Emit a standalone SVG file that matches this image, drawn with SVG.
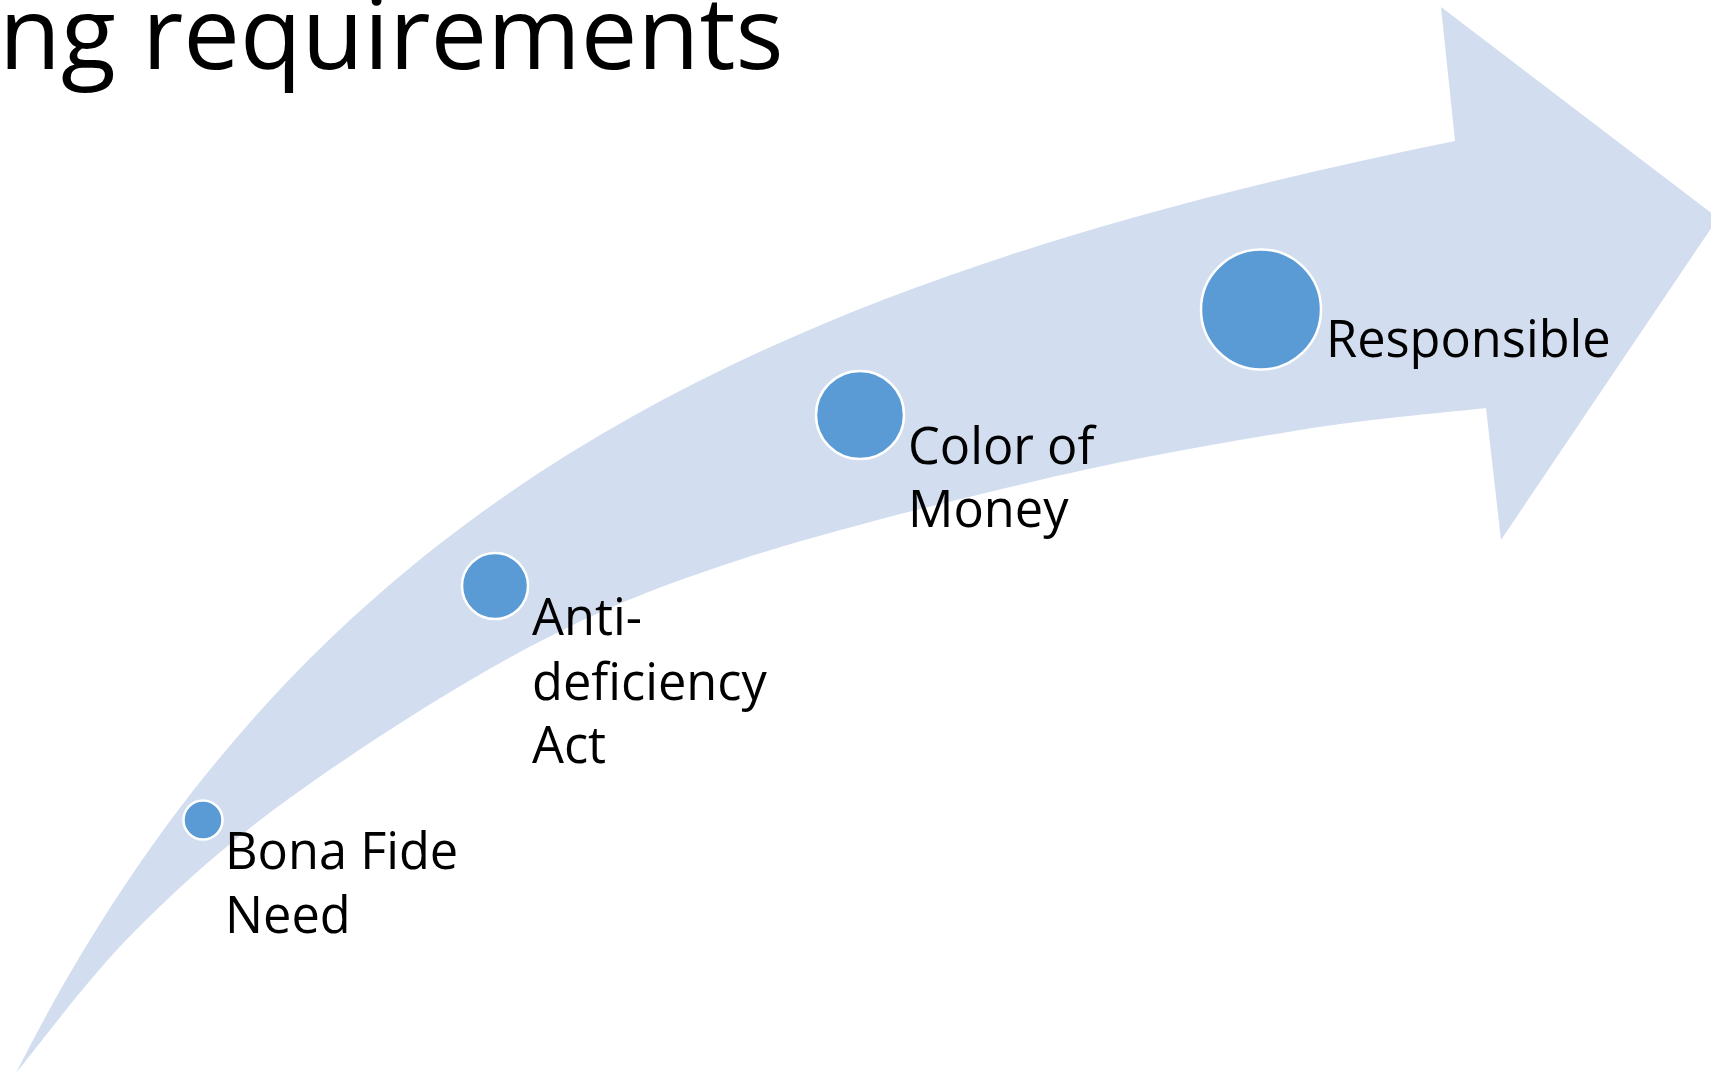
<svg xmlns="http://www.w3.org/2000/svg" width="1711" height="1074" viewBox="0 0 1711 1074">
  <style>
    .band { fill: #D2DEEF; stroke: none; }
    .dot { fill: #5B9BD5; stroke: #FFFFFF; stroke-width: 2.5; }
    .label { font-family: "Open Sans", "Noto Sans", "Liberation Sans", sans-serif; font-size: 50.5px; fill: #000000; }
    .title { font-family: "Open Sans", "Noto Sans", "Liberation Sans", sans-serif; font-size: 101px; fill: #000000; }
  </style>
  <rect x="0" y="0" width="1711" height="1074" fill="#FFFFFF"/>
  <text class="title" x="-1" y="69">ng requirements</text>
  <g id="arrow">
    <path class="band" d="M16,1073 C308,494 769,281 1455,141 L1441,7 L1718,218 L1501,540 L1486,408 C1455,411.7 1374.3,418 1300,430 C1225.7,442 1134.5,458 1040,480 C945.5,502 819.7,533.3 733,562 C646.3,590.7 594.3,612.3 520,652 C445.7,691.7 351.5,753.2 287,800 C222.5,846.8 178.2,887.5 133,933 C87.8,978.5 35.5,1049.7 16,1073 Z"/>
  </g>
  <g id="connectors"></g>
  <g id="node-bona-fide">
    <circle class="dot" cx="203" cy="820" r="19.5"/>
    <text class="label" x="225" y="868.5">Bona Fide</text>
    <text class="label" x="225" y="933">Need</text>
  </g>
  <g id="node-anti-deficiency">
    <circle class="dot" cx="495" cy="586" r="33"/>
    <text class="label" x="532" y="635">Anti-</text>
    <text class="label" x="532" y="699.5">deficiency</text>
    <text class="label" x="532" y="763">Act</text>
  </g>
  <g id="node-color-of-money">
    <circle class="dot" cx="860" cy="415" r="44"/>
    <text class="label" x="908" y="464">Color of</text>
    <text class="label" x="908" y="527">Money</text>
  </g>
  <g id="node-responsible">
    <circle class="dot" cx="1261" cy="309.5" r="60"/>
    <text class="label" x="1326" y="357">Responsible</text>
  </g>
</svg>
